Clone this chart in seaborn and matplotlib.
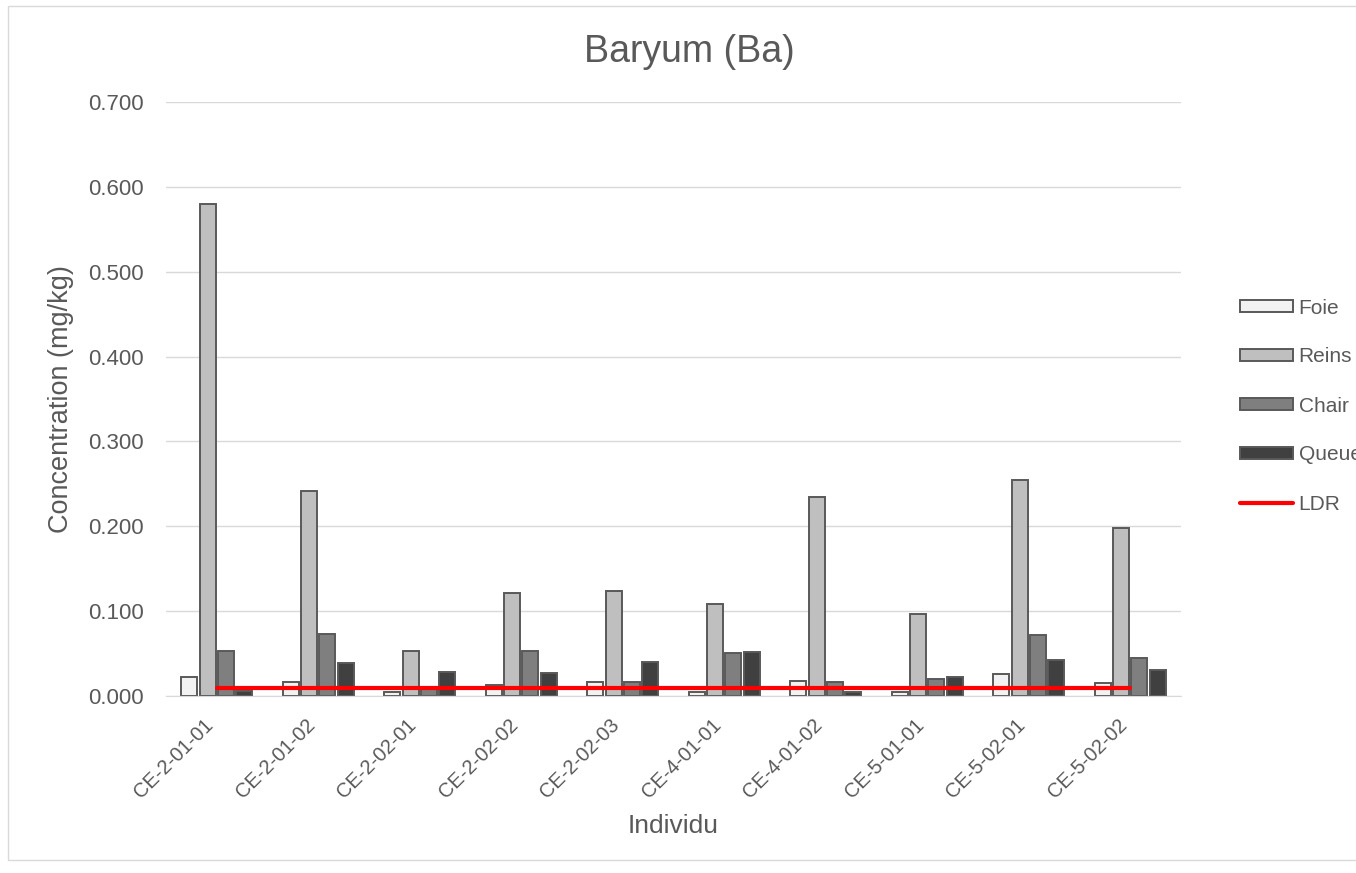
import pandas as pd
import matplotlib.pyplot as plt
import matplotlib.transforms as mtransforms
import seaborn as sns
from matplotlib.patches import Patch, Rectangle
from matplotlib.lines import Line2D

# Données
individus = ['CE-2-01-01', 'CE-2-01-02', 'CE-2-02-01', 'CE-2-02-02', 'CE-2-02-03',
             'CE-4-01-01', 'CE-4-01-02', 'CE-5-01-01', 'CE-5-02-01', 'CE-5-02-02']
foie = [0.022, 0.017, 0.005, 0.013, 0.016, 0.005, 0.018, 0.005, 0.026, 0.015]
reins = [0.580, 0.241, 0.053, 0.121, 0.124, 0.109, 0.234, 0.097, 0.254, 0.198]
chair = [0.053, 0.073, 0.008, 0.053, 0.017, 0.051, 0.017, 0.020, 0.072, 0.045]
queue = [0.006, 0.039, 0.028, 0.027, 0.040, 0.052, 0.005, 0.022, 0.043, 0.031]
ldr = [0.010] * len(individus)

tissus = ['Foie', 'Reins', 'Chair', 'Queue']
couleurs = ['#F2F2F2', '#BFBFBF', '#7F7F7F', '#404040']

dados = pd.DataFrame({'Individu': individus, 'Foie': foie, 'Reins': reins,
                      'Chair': chair, 'Queue': queue})
dados = dados.melt(id_vars='Individu', var_name='Tissu', value_name='Concentration')

sns.set_style('white')
plt.rcParams['font.family'] = ['Liberation Sans', 'DejaVu Sans']

fig = plt.figure(figsize=(13.56, 8.73), dpi=100)
ax = fig.add_axes([166 / 1356, 1 - 696 / 873, (1181 - 166) / 1356, (696 - 102) / 873])

sns.barplot(data=dados, x='Individu', y='Concentration', hue='Tissu', hue_order=tissus,
            palette=couleurs, order=individus, width=0.72, gap=0.12,
            edgecolor='#595959', linewidth=1.4, legend=False, ax=ax, zorder=2)
ax.plot(individus, ldr, color='#FF0000', linewidth=3, zorder=3)

ax.set_ylim(0, 0.7)
ax.set_xlim(-0.5, len(individus) - 0.5)
ax.set_yticks([i / 10 for i in range(8)])
ax.set_yticklabels([f'{i / 10:.3f}' for i in range(8)], fontsize=16, color='#595959')
ax.set_xticks(range(len(individus)))
ax.set_xticklabels(individus, rotation=45, ha='right', rotation_mode='anchor',
                   fontsize=14.5, color='#595959')
ax.tick_params(axis='x', which='major', length=0, pad=11)
ax.tick_params(axis='y', length=0, pad=16)
# décalage des étiquettes comme dans Excel
decalage = mtransforms.ScaledTranslation(-0.13, -0.04, fig.dpi_scale_trans)
for lab in ax.get_xticklabels():
    lab.set_transform(lab.get_transform() + decalage)
ax.set_xticks([i - 0.5 for i in range(len(individus) + 1)], minor=True)
ax.tick_params(axis='x', which='minor', length=6, color='#D9D9D9', width=1)
ax.grid(axis='y', color='#D9D9D9', linewidth=1, zorder=0)
ax.set_axisbelow(True)
for s in ['top', 'right', 'left']:
    ax.spines[s].set_visible(False)
ax.spines['bottom'].set_color('#D9D9D9')

fig.text(689 / 1356, 1 - 52 / 873, 'Baryum (Ba)', fontsize=27, color='#595959',
         ha='center', va='center')
ax.set_xlabel('Individu', fontsize=19, color='#595959', va='center')
ax.xaxis.set_label_coords((673 - 166) / 1015, (696 - 826) / 594)
ax.set_ylabel('Concentration (mg/kg)', fontsize=19.5, color='#595959', va='center')
ax.yaxis.set_label_coords((61 - 166) / 1015, 0.5)

handles = [Patch(facecolor=c, edgecolor='#595959', linewidth=1.4, label=t)
           for c, t in zip(couleurs, tissus)]
handles.append(Line2D([0], [0], color='#FF0000', linewidth=3, label='LDR'))
fig.legend(handles=handles, loc='center left', bbox_to_anchor=(1240 / 1356, 1 - 406 / 873),
           frameon=False, fontsize=15, labelspacing=1.44, handlelength=2.56,
           handleheight=0.5, handletextpad=0.25, borderpad=0, borderaxespad=0,
           labelcolor='#595959')

fig.patches.append(Rectangle((8 / 1356, 1 - 860 / 873), 1.1, 854 / 873,
                             transform=fig.transFigure, fill=False,
                             edgecolor='#D9D9D9', linewidth=1))

fig.savefig('out.png', dpi=100)
